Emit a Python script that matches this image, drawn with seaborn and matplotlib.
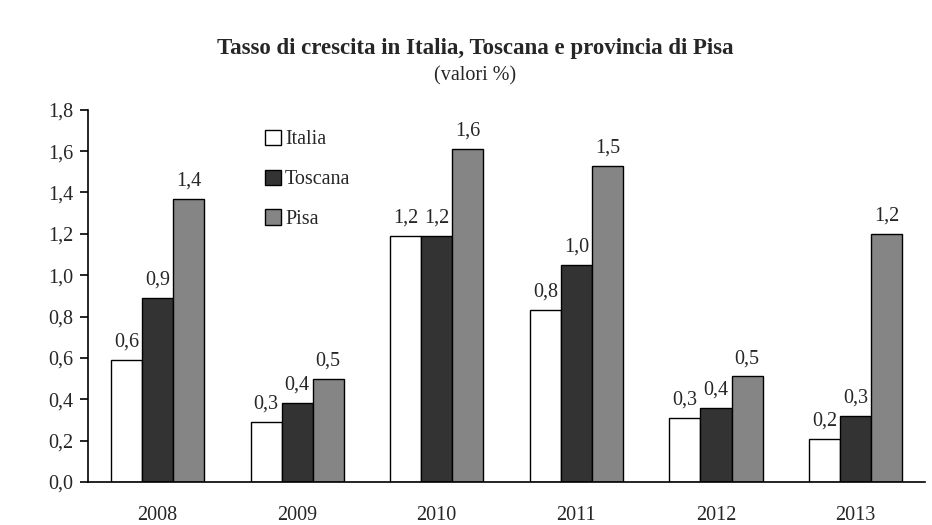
import pandas as pd
import matplotlib.pyplot as plt
import seaborn as sns

years = ["2008", "2009", "2010", "2011", "2012", "2013"]
series = ["Italia", "Toscana", "Pisa"]
italia = [0.59, 0.29, 1.19, 0.83, 0.31, 0.21]
toscana = [0.89, 0.38, 1.19, 1.05, 0.36, 0.32]
pisa = [1.37, 0.50, 1.61, 1.53, 0.51, 1.20]
italia_lbl = ["0,6", "0,3", "1,2", "0,8", "0,3", "0,2"]
toscana_lbl = ["0,9", "0,4", "1,2", "1,0", "0,4", "0,3"]
pisa_lbl = ["1,4", "0,5", "1,6", "1,5", "0,5", "1,2"]
y_ticks = [0.0, 0.2, 0.4, 0.6, 0.8, 1.0, 1.2, 1.4, 1.6, 1.8]


def make_chart():
    df = pd.DataFrame({
        "anno": years * 3,
        "serie": [s for s in series for _ in years],
        "valore": italia + toscana + pisa,
    })

    sns.set_theme(style="white")
    plt.rcParams['font.family'] = ['Liberation Serif', 'DejaVu Serif']

    fig = plt.figure(figsize=(9.32, 5.25), dpi=100)
    ax = fig.add_axes([0.094, 0.082, 0.899, 0.709])

    sns.barplot(data=df, x="anno", y="valore", hue="serie", order=years,
                hue_order=series, palette=["white", "#333333", "#858585"],
                width=0.667, gap=0, edgecolor="black", linewidth=1,
                ax=ax, legend=True)

    for cont, lbl in zip(ax.containers, [italia_lbl, toscana_lbl, pisa_lbl]):
        ax.bar_label(cont, labels=lbl, padding=6, fontsize=14.5)

    ax.set_ylim(0, 1.8)
    ax.set_xlim(-0.5, 5.5)
    ax.set_yticks(y_ticks)
    ax.set_yticklabels([f"{v:.1f}".replace(".", ",") for v in y_ticks])
    ax.tick_params(axis="y", left=True, direction="out", length=6, width=1.2,
                   color="black", labelsize=14.5, pad=4)
    ax.tick_params(axis="x", bottom=False, labelsize=14.5, pad=11)
    ax.set_xlabel("")
    ax.set_ylabel("")
    for s in ["top", "right"]:
        ax.spines[s].set_visible(False)
    for s in ["left", "bottom"]:
        ax.spines[s].set_color("black")
        ax.spines[s].set_linewidth(1.2)

    ax.legend(loc="upper left", bbox_to_anchor=(0.19, 0.995), frameon=False,
              fontsize=14.5, handlelength=0.8, handleheight=0.8,
              handletextpad=0.2, labelspacing=1.0)

    fig.text(0.51, 0.908, "Tasso di crescita in Italia, Toscana e provincia di Pisa",
             ha="center", va="center", fontsize=16.5, fontweight="bold")
    fig.text(0.51, 0.855, "(valori %)", ha="center", va="center", fontsize=14.5)

    fig.savefig("out.png", dpi=100)


if __name__ == '__main__':
    make_chart()
